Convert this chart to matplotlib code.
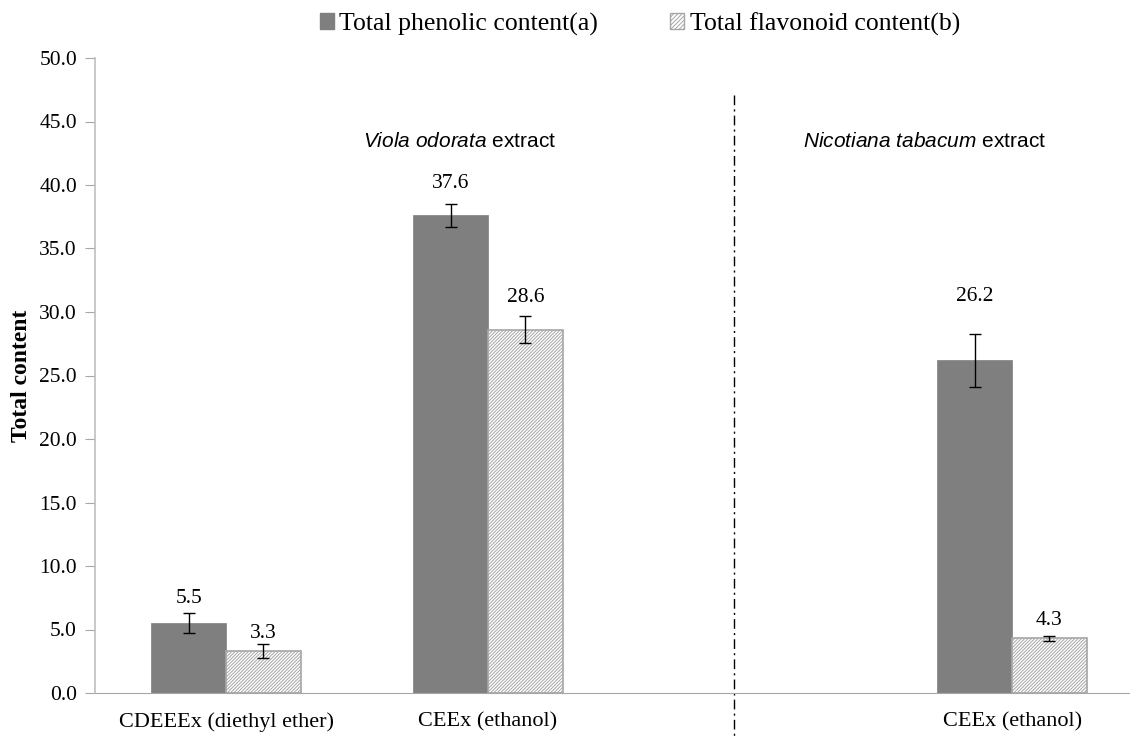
import numpy as np
import matplotlib
matplotlib.use("Agg")
import matplotlib.pyplot as plt
from matplotlib.patches import Patch

# data
groups = ["CDEEEx (diethyl ether)", "CEEx (ethanol)", "", "CEEx (ethanol)"]
phenolic = [5.5, 37.6, np.nan, 26.2]
phenolic_err = [0.8, 0.9, np.nan, 2.1]
flavonoid = [3.3, 28.6, np.nan, 4.3]
flavonoid_err = [0.55, 1.05, np.nan, 0.2]
yticks = np.arange(0, 50.1, 5.0)

# label placement (points above the bar top)
phenolic_pad = [18, 23, np.nan, 46]
flavonoid_pad = [13, 23, np.nan, 13]

serif = "Liberation Serif"
sans = "Liberation Sans"

plt.rcParams["hatch.linewidth"] = 0.7
plt.rcParams["mathtext.fontset"] = "custom"
plt.rcParams["mathtext.rm"] = "Liberation Sans"
plt.rcParams["mathtext.it"] = "Liberation Sans:italic"

fig = plt.figure(figsize=(11.3, 7.36), dpi=100)
ax = fig.add_axes([95 / 1130, 43 / 736, 1 - 95 / 1130, (693 - 58) / 736])

x = np.arange(len(groups))
w = 0.285
dark = "#7f7f7f"
light_edge = "#a6a6a6"

ax.bar(x - w / 2, phenolic, w, color=dark, edgecolor=dark, linewidth=0.5)
ax.bar(x + w / 2, flavonoid, w, color="white", edgecolor=light_edge,
       hatch="/" * 10, linewidth=1.2)
ax.errorbar(x - w / 2, phenolic, yerr=phenolic_err, fmt="none", ecolor="black",
            elinewidth=1, capsize=4, capthick=1)
ax.errorbar(x + w / 2, flavonoid, yerr=flavonoid_err, fmt="none", ecolor="black",
            elinewidth=1, capsize=4, capthick=1)

for i in range(len(groups)):
    if not np.isnan(phenolic[i]):
        ax.annotate(f"{phenolic[i]:.1f}", (x[i] - w / 2, phenolic[i]),
                    xytext=(0, phenolic_pad[i]), textcoords="offset points",
                    ha="center", va="center", fontsize=15.5, family=serif)
    if not np.isnan(flavonoid[i]):
        ax.annotate(f"{flavonoid[i]:.1f}", (x[i] + w / 2, flavonoid[i]),
                    xytext=(0, flavonoid_pad[i]), textcoords="offset points",
                    ha="center", va="center", fontsize=15.5, family=serif)

ax.set_xlim(-0.5, 3.45)
ax.set_ylim(0, 50)
ax.set_yticks(yticks)
ax.set_yticklabels([f"{v:.1f}" for v in yticks], family=serif, fontsize=15.5)
ax.set_xticks(x)
ax.set_xticklabels(groups, family=serif, fontsize=16)
ax.tick_params(axis="x", length=0, pad=14)
ax.tick_params(axis="y", direction="out", length=7, color="#a6a6a6", pad=6)

for side in ["top", "right"]:
    ax.spines[side].set_visible(False)
ax.spines["left"].set_color("#bfbfbf")
ax.spines["bottom"].set_color("#a6a6a6")
ax.spines["left"].set_linewidth(1.2)

ax.set_ylabel("Total content", family=serif, fontsize=17, fontweight="bold",
              labelpad=5)

# separator between the two plant extracts
divider_x = 1.94
ax.plot([divider_x, divider_x], [47.1, -3.5], color="black", linewidth=1,
        linestyle=(0, (7, 3, 1.5, 3)), clip_on=False)

ax.text(0.893, 43.4, r"$\it{Viola\ odorata}$ extract", fontsize=15, family=sans,
        ha="center", va="center")
ax.text(2.668, 43.4, r"$\it{Nicotiana\ tabacum}$ extract", fontsize=15,
        family=sans, ha="center", va="center")

handles = [
    Patch(facecolor=dark, edgecolor=dark, label="Total phenolic content(a)"),
    Patch(facecolor="white", edgecolor=light_edge, hatch="/" * 8,
          label="Total flavonoid content(b)"),
]
fig.legend(handles=handles, loc="center", bbox_to_anchor=(640 / 1130, 1 - 24 / 736),
           ncol=2, frameon=False, prop={"family": serif, "size": 18.5},
           handlelength=0.55, handleheight=0.55, handletextpad=0.2,
           columnspacing=2.8)

fig.savefig("out.png", dpi=100)
